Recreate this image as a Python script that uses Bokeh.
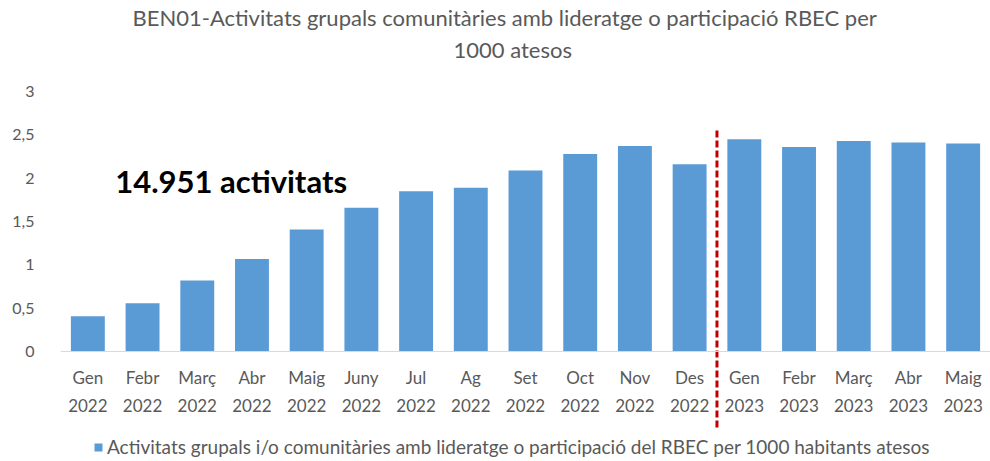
from bokeh.plotting import figure
from bokeh.models import (FactorRange, Range1d, FixedTicker, CustomJSTickFormatter,
                          Title, Label, Legend, ColumnDataSource)
from bokeh.embed import file_html
from bokeh.resources import INLINE

# ---- data ----
month_names = ["Gen", "Febr", "Març", "Abr", "Maig", "Juny", "Jul", "Ag", "Set",
               "Oct", "Nov", "Des", "Gen", "Febr", "Març", "Abr", "Maig"]
years = ["2022"] * 12 + ["2023"] * 5
values = [0.41, 0.56, 0.82, 1.07, 1.41, 1.66, 1.85, 1.89, 2.09,
          2.28, 2.37, 2.16, 2.45, 2.36, 2.43, 2.41, 2.40]
y_ticks = [0, 0.5, 1, 1.5, 2, 2.5, 3]
title_line1 = "BEN01-Activitats grupals comunitàries amb lideratge o participació RBEC per"
title_line2 = "1000 atesos"
series_name = "Activitats grupals i/o comunitàries amb lideratge o participació del RBEC per 1000 habitants atesos"
annotation_text = "14.951 activitats"
divider_top = 2.55
divider_bottom = -0.88

factors = [f"{m}\n{y}" for m, y in zip(month_names, years)]

FONT = "Lato"
GREY = "#595959"
BLUE = "#5B9BD5"

source = ColumnDataSource(data=dict(x=factors, top=values))

p = figure(width=990, height=461, output_backend="svg", toolbar_location=None,
           x_range=FactorRange(*factors, range_padding=0),
           y_range=Range1d(-1.264, 3.310),
           min_border_left=60, min_border_right=0, min_border_top=63,
           min_border_bottom=0)
p.outline_line_color = None
p.xgrid.grid_line_color = None
p.ygrid.grid_line_color = None
p.background_fill_color = "white"
p.border_fill_color = "white"

r = p.vbar(x="x", top="top", width=0.62, bottom=0, source=source,
           fill_color=BLUE, line_color=None)

# divider between 2022 and 2023
p.segment(x0=[12], y0=[divider_top], x1=[12], y1=[divider_bottom],
          line_color="#C00000", line_width=3, line_dash="7 3")

# axes
xa = p.xaxis[0]
xa.fixed_location = 0
xa.axis_line_color = "#D9D9D9"
xa.axis_line_width = 1
xa.major_tick_line_color = None
xa.minor_tick_line_color = None
xa.major_label_text_color = GREY
xa.major_label_text_font = FONT
xa.major_label_text_font_size = "17px"
xa.major_label_text_line_height = 1.35
xa.major_label_standoff = 9

ya = p.yaxis[0]
ya.ticker = FixedTicker(ticks=y_ticks)
ya.formatter = CustomJSTickFormatter(code="return tick.toString().replace('.', ',');")
ya.axis_line_color = None
ya.major_tick_line_color = None
ya.minor_tick_line_color = None
ya.major_label_text_color = GREY
ya.major_label_text_font = FONT
ya.major_label_text_font_size = "16px"
ya.major_label_standoff = 20

# annotation
p.add_layout(Label(x=1.0, y=1.97, text=annotation_text, text_font=FONT,
                   text_font_style="bold", text_font_size="31px",
                   text_color="black", text_baseline="middle"))

# titles (first added is closest to the frame)
p.add_layout(Title(text=title_line2, align="left", offset=393, text_font=FONT,
                   text_font_size="22px", text_font_style="normal",
                   text_color=GREY, standoff=3), "above")
p.add_layout(Title(text=title_line1, align="left", offset=72, text_font=FONT,
                   text_font_size="22px", text_font_style="normal",
                   text_color=GREY, standoff=3), "above")

legend = Legend(items=[(series_name, [r])], location=(33, 3),
                label_text_font=FONT, label_text_font_size="19px",
                label_text_color=GREY, glyph_width=10, glyph_height=10,
                border_line_color=None, background_fill_alpha=0,
                padding=0, margin=0, label_standoff=4, spacing=0)
p.add_layout(legend)

open("out.html", "w").write(file_html(p, INLINE))
